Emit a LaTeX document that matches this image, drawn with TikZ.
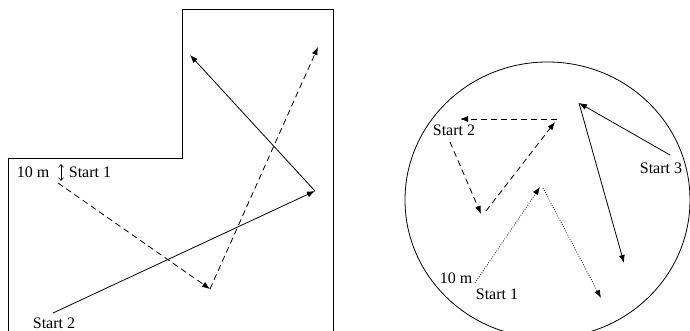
\documentclass[tikz,border=0pt]{standalone}
\usepackage{fontspec}
\setmainfont{Liberation Serif}
\usetikzlibrary{arrows.meta}
\begin{document}
\begin{tikzpicture}[x=1pt,y=-1pt,
  lbl/.style={font=\fontsize{16}{19}\selectfont, inner sep=0pt},
  wall/.style={line width=0.8pt},
  move/.style={line width=0.8pt, -{Latex[length=8pt,width=6pt]}},
  dashmove/.style={move, dash pattern=on 6pt off 4pt},
  dotmove/.style={move, dash pattern=on 0.8pt off 1.6pt}]
\useasboundingbox (0,0) rectangle (690,331);

% ---------- left room ----------
\coordinate (w1) at (8,333);
\coordinate (w2) at (8,158);
\coordinate (w3) at (182,158);
\coordinate (w4) at (182,9);
\coordinate (w5) at (333,9);
\coordinate (w6) at (333,333);
\draw[wall] (w1) -- (w2) -- (w3) -- (w4) -- (w5) -- (w6);

\node[lbl] (tenL) at (33,172) {10 m};
\node[lbl] (s1L) at (90,172) {Start 1};
\node[lbl] (s2L) at (54,323) {Start 2};
\coordinate (h1) at (61,164);
\coordinate (h2) at (61,181);
\draw[line width=0.6pt,{Straight Barb[length=3pt,width=5pt]}-{Straight Barb[length=3pt,width=5pt]}] (h1) -- (h2);

\coordinate (a1) at (58,183);
\coordinate (a2) at (210,289);
\coordinate (a3) at (318,47);
\draw[dashmove] (a1) -- (a2);
\draw[dashmove] (a2) -- (a3);

\coordinate (b0) at (53,313);
\coordinate (b1) at (315,191);
\coordinate (b2) at (190,55);
\draw[move] (b0) -- (b1);
\draw[move] (b1) -- (b2);

% ---------- right arena ----------
\coordinate (ctr) at (547.5,200);
\draw[wall] (ctr) ellipse [x radius=142.5pt, y radius=138pt];

\node[lbl] (s2R) at (454,130) {Start 2};
\node[lbl] (tenR) at (456,278) {10 m};
\node[lbl] (s1R) at (497,294) {Start 1};
\node[lbl] (s3R) at (661,168) {Start 3};

\coordinate (c0) at (557,119);
\coordinate (c1) at (460,119);
\coordinate (c2) at (450,142);
\coordinate (c3) at (481,214);
\coordinate (c4) at (486,211);
\coordinate (c5) at (555,122);
\draw[dashmove] (c0) -- (c1);
\draw[dashmove] (c2) -- (c3);
\draw[dashmove] (c4) -- (c5);

\coordinate (d0) at (475,283);
\coordinate (d1) at (540,187);
\coordinate (d2) at (543,188);
\coordinate (d3) at (601,298);
\draw[dotmove] (d0) -- (d1);
\draw[dotmove] (d2) -- (d3);

\coordinate (e0) at (670,155);
\coordinate (e1) at (579,103);
\coordinate (e2) at (624,263);
\draw[move] (e0) -- (e1);
\draw[move] (e1) -- (e2);
\end{tikzpicture}
\end{document}
